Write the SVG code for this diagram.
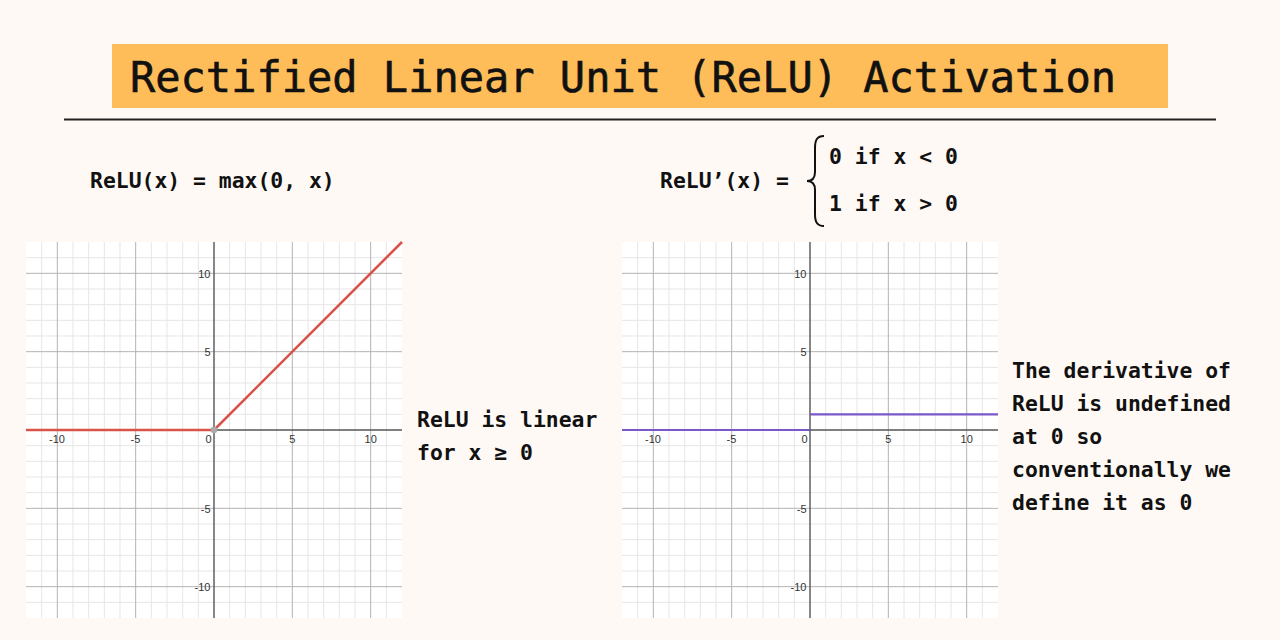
<svg xmlns="http://www.w3.org/2000/svg" xmlns:xlink="http://www.w3.org/1999/xlink" width="1280" height="640" viewBox="0 0 1280 640">
<style>
.title{font-family:"DejaVu Sans Mono","Liberation Mono",monospace;font-size:42px;fill:#111;stroke:#111;stroke-width:0.6}
.body{font-family:"DejaVu Sans Mono","Liberation Mono",monospace;font-size:21.4px;font-weight:bold;fill:#111}
.tick{font-family:"Liberation Sans",Arial,sans-serif;font-size:11px;fill:#333}
.minor{stroke:#e6e6e6;stroke-width:1;fill:none}
.major{stroke:#b4b4b4;stroke-width:1;fill:none}
.axis{stroke:#555;stroke-width:1.4;fill:none}
.ns{vector-effect:non-scaling-stroke}
</style>
<defs>
<g id="grid">
<rect x="-188" y="-188" width="376" height="376" fill="#ffffff"/>
<g transform="scale(15.667)">
<path class="minor ns" d="M-11,-12V12M-9,-12V12M-8,-12V12M-7,-12V12M-6,-12V12M-4,-12V12M-3,-12V12M-2,-12V12M-1,-12V12M1,-12V12M2,-12V12M3,-12V12M4,-12V12M6,-12V12M7,-12V12M8,-12V12M9,-12V12M11,-12V12M-12,-11H12M-12,-9H12M-12,-8H12M-12,-7H12M-12,-6H12M-12,-4H12M-12,-3H12M-12,-2H12M-12,-1H12M-12,1H12M-12,2H12M-12,3H12M-12,4H12M-12,6H12M-12,7H12M-12,8H12M-12,9H12M-12,11H12"/>
<path class="major ns" d="M-10,-12V12M-5,-12V12M5,-12V12M10,-12V12M-12,-10H12M-12,-5H12M-12,5H12M-12,10H12"/>
<path class="axis ns" d="M0,-12V12M-12,0H12"/>
</g>
<text class="tick" x="-157" y="12.5" text-anchor="middle">-10</text>
<text class="tick" x="-78.5" y="12.5" text-anchor="middle">-5</text>
<text class="tick" x="-5.5" y="12.5" text-anchor="middle">0</text>
<text class="tick" x="78.3" y="12.5" text-anchor="middle">5</text>
<text class="tick" x="156.7" y="12.5" text-anchor="middle">10</text>
<text class="tick" x="-3.5" y="-152.5" text-anchor="end">10</text>
<text class="tick" x="-3.5" y="-74.5" text-anchor="end">5</text>
<text class="tick" x="-3.5" y="82.5" text-anchor="end">-5</text>
<text class="tick" x="-3.5" y="161" text-anchor="end">-10</text>
</g>
</defs>
<rect width="1280" height="640" fill="#fef9f5"/>

<g id="title">
<rect x="112" y="44" width="1056" height="64" fill="#ffbd59"/>
<text class="title" x="130" y="92">Rectified Linear Unit (ReLU) Activation</text>
<line x1="64" y1="119.5" x2="1216" y2="119.5" stroke="#222" stroke-width="2"/>
</g>

<g id="formula-relu">
<text class="body" x="90" y="187.5">ReLU(x) = max(0, x)</text>
</g>

<g id="formula-derivative">
<text class="body" x="660" y="187.5">ReLU’(x) =</text>
<path d="M824,136 C817,136 815,140 815,148 L815,172 C815,178 812,181 807,181 C812,181 815,184 815,190 L815,214 C815,222 817,226 824,226" fill="none" stroke="#111" stroke-width="2"/>
<text class="body" x="829" y="164">0 if x &lt; 0</text>
<text class="body" x="829" y="210.5">1 if x &gt; 0</text>
</g>

<g id="graph-relu">
<use xlink:href="#grid" href="#grid" transform="translate(214,430)"/>
<path d="M26,430H214L402,242" fill="none" stroke="#d9534a" stroke-width="2.6" stroke-linejoin="round"/>
<circle cx="214" cy="430" r="3.2" fill="#aaaaaa"/>
</g>

<g id="graph-derivative">
<use xlink:href="#grid" href="#grid" transform="translate(810,430)"/>
<path d="M622,430H810" fill="none" stroke="#7b58c9" stroke-width="2.2"/>
<path d="M810,414.3H998" fill="none" stroke="#7b58c9" stroke-width="2.2"/>
</g>

<g id="note-relu">
<text class="body" x="417" y="426.5">ReLU is linear</text>
<text class="body" x="417" y="460">for x ≥ 0</text>
</g>

<g id="note-derivative">
<text class="body" x="1012" y="377.5">The derivative of</text>
<text class="body" x="1012" y="410.5">ReLU is undefined</text>
<text class="body" x="1012" y="443.5">at 0 so</text>
<text class="body" x="1012" y="476.5">conventionally we</text>
<text class="body" x="1012" y="509.5">define it as 0</text>
</g>

<g id="connectors"/>
</svg>
